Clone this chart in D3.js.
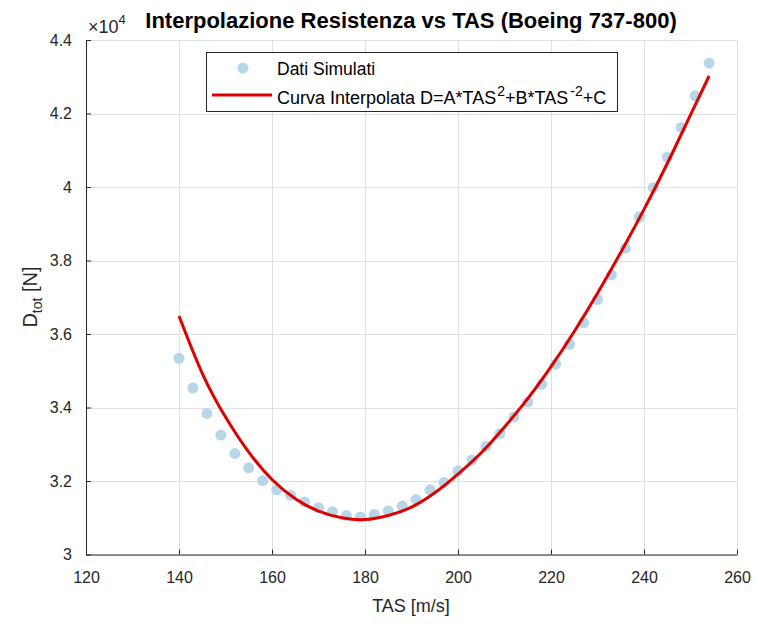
<!DOCTYPE html>
<html>
<head>
<meta charset="utf-8">
<script src="https://cdn.jsdelivr.net/npm/d3@7"></script>
<style>
  body { margin: 0; background: #ffffff; }
  svg { display: block; font-family: "Liberation Sans", Arial, sans-serif; }
</style>
</head>
<body>
<script>
'use strict';

// simulated points (TAS in m/s, drag in N)
const tas = [140, 143, 146, 149, 152, 155, 158, 161, 164, 167, 170, 173, 176,
  179, 182, 185, 188, 191, 194, 197, 200, 203, 206, 209, 212, 215, 218, 221,
  224, 227, 230, 233, 236, 239, 242, 245, 248, 251, 254];
const dragSimulated = [35340, 34530, 33840, 33250, 32750, 32360, 32010, 31760,
  31610, 31430, 31270, 31160, 31060, 31020, 31090, 31190, 31320, 31500, 31760,
  31960, 32270, 32570, 32940, 33290, 33740, 34150, 34630, 35180, 35720, 36310,
  36940, 37610, 38330, 39190, 39980, 40810, 41620, 42480, 43370];

// interpolated curve
const curveTas = [140, 145, 150, 155, 160, 165, 170, 175, 180, 185, 190, 195,
  200, 205, 210, 215, 220, 225, 230, 235, 240, 245, 250, 254];
const curveDrag = [36490, 34930, 33740, 32785, 32040, 31520, 31180, 31000,
  30950, 31060, 31290, 31680, 32190, 32770, 33470, 34240, 35110, 36070, 37110,
  38220, 39390, 40640, 41960, 43020];

const xTicks = [120, 140, 160, 180, 200, 220, 240, 260];
const yTicks = [30000, 32000, 34000, 36000, 38000, 40000, 42000, 44000];
const yTickLabels = ['3', '3.2', '3.4', '3.6', '3.8', '4', '4.2', '4.4'];

(function() {

  let svgContainer = "";
  const left = 86, right = 737, top = 40, bottom = 554.5;

  window.onload = function() {
    svgContainer = d3.select('body')
      .append('svg')
      .attr('width', 758)
      .attr('height', 624);

    let mapFunctions = drawTicks();
    plotData(mapFunctions);
    makeLegend();
    makeLabels();
  }

  function drawTicks() {
    let xScale = d3.scaleLinear()
      .domain([120, 260])
      .range([left, right]);

    let yScale = d3.scaleLinear()
      .domain([30000, 44000])
      .range([bottom, top]);

    // grid
    let grid = svgContainer.append('g');
    grid.selectAll('.gx')
      .data(xTicks).enter()
      .append('line')
        .attr('x1', d => Math.round(xScale(d)) + 0.5)
        .attr('x2', d => Math.round(xScale(d)) + 0.5)
        .attr('y1', top)
        .attr('y2', bottom)
        .attr('stroke', '#e0e0e0')
        .attr('stroke-width', 1);
    grid.selectAll('.gy')
      .data(yTicks).enter()
      .append('line')
        .attr('x1', left)
        .attr('x2', right)
        .attr('y1', d => Math.round(yScale(d)) + 0.5)
        .attr('y2', d => Math.round(yScale(d)) + 0.5)
        .attr('stroke', '#e0e0e0')
        .attr('stroke-width', 1);

    let xAxis = d3.axisBottom(xScale)
      .tickValues(xTicks)
      .tickSizeInner(-5)
      .tickSizeOuter(0)
      .tickPadding(17);

    let gx = svgContainer.append('g')
      .attr('transform', 'translate(0,' + bottom + ')')
      .call(xAxis);

    let yAxis = d3.axisLeft(yScale)
      .tickValues(yTicks)
      .tickSizeInner(-5)
      .tickSizeOuter(0)
      .tickPadding(14)
      .tickFormat((d, i) => yTickLabels[i]);

    let gy = svgContainer.append('g')
      .attr('transform', 'translate(' + left + ',0)')
      .call(yAxis);

    [gx, gy].forEach(g => {
      g.select('.domain').attr('stroke', '#262626');
      g.selectAll('.tick line').attr('stroke', '#262626');
      g.selectAll('.tick text')
        .attr('fill', '#262626')
        .style('font-size', '16px')
        .style('font-family', '"Liberation Sans", Arial, sans-serif');
    });

    return { xScale: xScale, yScale: yScale };
  }

  function plotData(map) {
    let xScale = map.xScale;
    let yScale = map.yScale;

    svgContainer.append('g')
      .selectAll('circle')
      .data(tas)
      .enter()
      .append('circle')
        .attr('cx', d => xScale(d))
        .attr('cy', (d, i) => yScale(dragSimulated[i]))
        .attr('r', 5.5)
        .attr('fill', '#b7d6e8');

    let line = d3.line()
      .x(d => xScale(d))
      .y((d, i) => yScale(curveDrag[i]))
      .curve(d3.curveNatural);

    svgContainer.append('path')
      .datum(curveTas)
      .attr('d', line)
      .attr('fill', 'none')
      .attr('stroke', '#e00000')
      .attr('stroke-width', 3)
      .attr('stroke-linejoin', 'round');
  }

  function makeLegend() {
    let lg = svgContainer.append('g');

    lg.append('rect')
      .attr('x', 206.5)
      .attr('y', 52.5)
      .attr('width', 411)
      .attr('height', 59)
      .attr('fill', '#ffffff')
      .attr('stroke', '#262626')
      .attr('stroke-width', 1);

    lg.append('circle')
      .attr('cx', 243)
      .attr('cy', 68)
      .attr('r', 5.5)
      .attr('fill', '#b7d6e8');

    lg.append('line')
      .attr('x1', 212)
      .attr('x2', 272)
      .attr('y1', 95)
      .attr('y2', 95)
      .attr('stroke', '#e00000')
      .attr('stroke-width', 3);

    lg.append('text')
      .attr('x', 277)
      .attr('y', 75)
      .attr('fill', '#000')
      .style('font-size', '17.5px')
      .text('Dati Simulati');

    let t = lg.append('text')
      .attr('x', 277)
      .attr('y', 104)
      .attr('fill', '#000')
      .style('font-size', '18px');
    t.append('tspan').text('Curva Interpolata D=A*TAS');
    t.append('tspan').attr('dx', 1).attr('dy', -8).style('font-size', '14px').text('2');
    t.append('tspan').attr('dy', 8).text('+B*TAS');
    t.append('tspan').attr('dx', 2).attr('dy', -8).style('font-size', '14px').text('-2');
    t.append('tspan').attr('dy', 8).text('+C');
  }

  function makeLabels() {
    svgContainer.append('text')
      .attr('x', 411)
      .attr('y', 28)
      .attr('text-anchor', 'middle')
      .style('font-size', '22px')
      .style('font-weight', 'bold')
      .text('Interpolazione Resistenza vs TAS (Boeing 737-800)');

    let ex = svgContainer.append('text')
      .attr('x', 88)
      .attr('y', 33)
      .attr('fill', '#262626')
      .style('font-size', '18px');
    ex.append('tspan').text('\u00d710');
    ex.append('tspan').attr('dy', -9).style('font-size', '13px').text('4');

    svgContainer.append('text')
      .attr('x', 411)
      .attr('y', 612)
      .attr('text-anchor', 'middle')
      .attr('fill', '#262626')
      .style('font-size', '18px')
      .text('TAS [m/s]');

    let yl = svgContainer.append('text')
      .attr('transform', 'translate(37, 297)rotate(-90)')
      .attr('text-anchor', 'middle')
      .attr('fill', '#262626')
      .style('font-size', '20px');
    yl.append('tspan').text('D');
    yl.append('tspan').attr('dy', 5).style('font-size', '14px').text('tot');
    yl.append('tspan').attr('dy', -5).text(' [N]');
  }

})();
</script>
</body>
</html>
